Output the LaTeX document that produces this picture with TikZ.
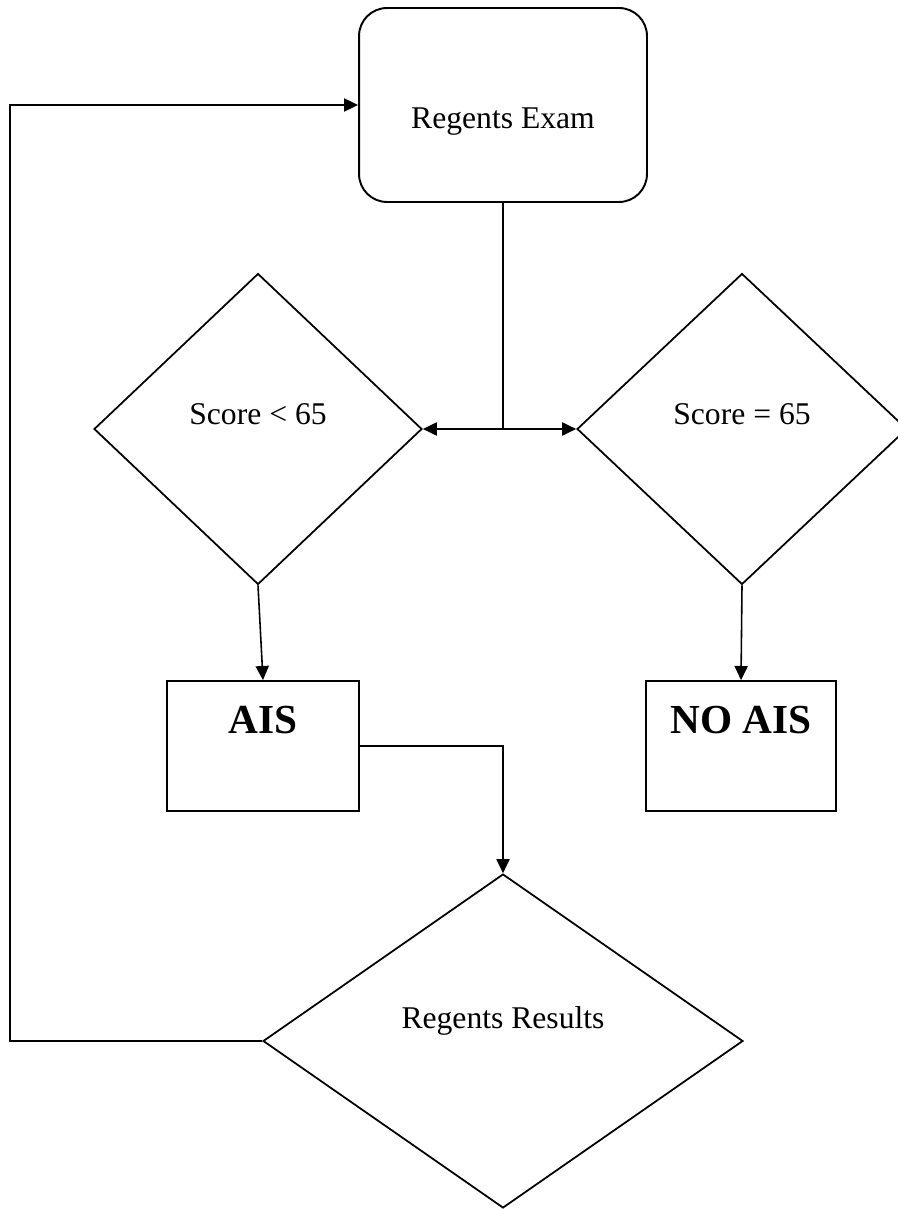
\documentclass[tikz,border=0pt]{standalone}
\usepackage{fontspec}
\setmainfont{Liberation Serif}
\usetikzlibrary{shapes.geometric}
\usetikzlibrary{arrows.meta}

\begin{document}
\begin{tikzpicture}[%%
  x=0.02cm,y=-0.02cm,%%
  lineStyle/.style={-,line width=0.9pt},%%
  flowStyle/.style={-{Triangle[length=8pt,width=7.5pt]},line width=0.9pt},%%
  boxStyle/.style={draw,rectangle,line width=1.1pt,inner sep=0pt},%%
  diamondStyle/.style={draw,diamond,line width=1pt,inner sep=0pt},%%
  textStyle/.style={font=\fontsize{18}{20}\selectfont},%%
  boldStyle/.style={font=\fontsize{23.5}{26}\selectfont\bfseries},%%
]
%%
%%
%% The frame of the page.
\useasboundingbox (0,0) rectangle (898,1209);
\clip (0,0) rectangle (898,1209);
%% The exam at the top.
\node[boxStyle,rounded corners=0.56cm,minimum width=5.76cm,minimum height=3.88cm] (exam) at (503,105) {};
\node[textStyle] (examText) at (503,122) {Regents Exam};
%% The two tests of the score.
\node[diamondStyle,minimum width=6.56cm,minimum height=6.22cm] (low) at (258,429) {};
\node[textStyle] (lowText) at (258,414) {Score < 65};
\node[diamondStyle,minimum width=6.6cm,minimum height=6.22cm] (pass) at (742,429) {};
\node[textStyle] (passText) at (742,414) {Score = 65};
%% The two outcomes.
\node[boxStyle,minimum width=3.84cm,minimum height=2.6cm] (ais) at (263,746) {};
\node[boldStyle] (aisText) at (263,720) {AIS};
\node[boxStyle,minimum width=3.8cm,minimum height=2.6cm] (noAis) at (741,746) {};
\node[boldStyle] (noAisText) at (741,720) {NO AIS};
%% The results of the exam.
\node[diamondStyle,minimum width=9.6cm,minimum height=6.68cm] (results) at (503,1041) {};
\node[textStyle] (resultsText) at (503,1021) {Regents Results};
%%
%%
%% The split below the exam.
\coordinate (fork) at (exam.south |- low.east);
\draw[lineStyle] (exam.south) -- (fork);
\draw[flowStyle] (fork) -- (low.east);
\draw[flowStyle] (fork) -- (pass.west);
%% Down to the outcomes.
\draw[flowStyle] (low.south) -- (ais.north);
\draw[flowStyle] (pass.south) -- (noAis.north);
\draw[flowStyle] (ais.east) -| (results.north);
%% Back to the exam.
\coordinate (loop) at (10,1041);
\draw[flowStyle] (results.west) -- (loop) |- (exam.west);
\end{tikzpicture}
\end{document}
